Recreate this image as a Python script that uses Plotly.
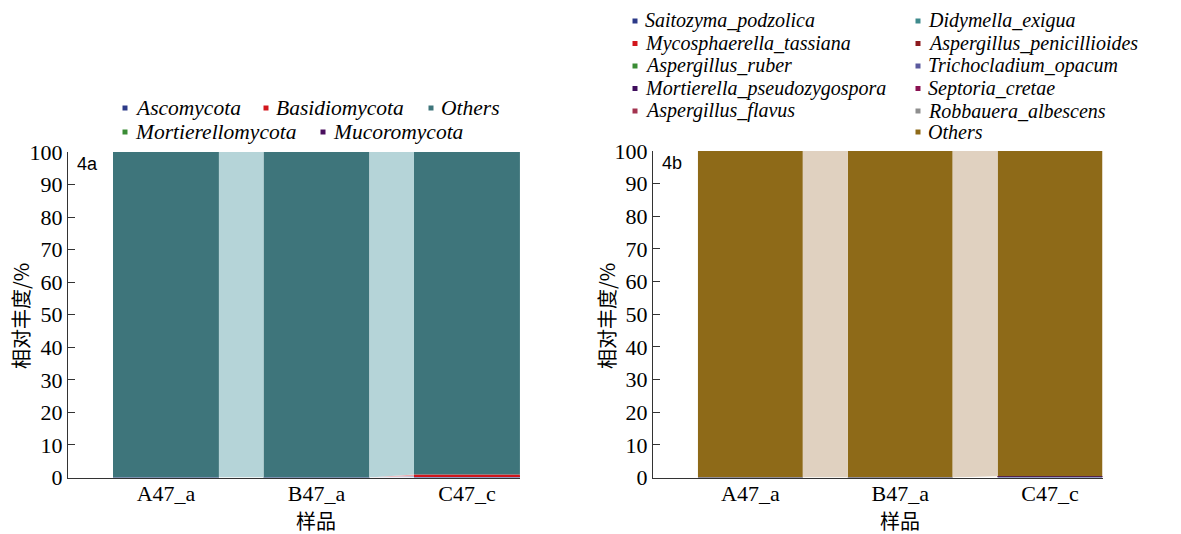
import plotly.graph_objects as go

# ---------------- data ----------------
samples = ["A47_a", "B47_a", "C47_c"]

# panel 4a: phylum level relative abundance (%), stacked bottom -> top
phyla = ["Ascomycota", "Mortierellomycota", "Basidiomycota", "Mucoromycota", "Others"]
ascomycota = [0.02, 0.02, 0.45]
mortierellomycota = [0.00, 0.00, 0.00]
basidiomycota = [0.00, 0.00, 0.50]
mucoromycota = [0.00, 0.00, 0.00]
others_phylum = [99.98, 99.98, 99.05]

# panel 4b: species level relative abundance (%), stacked bottom -> top
species = [
    "Saitozyma_podzolica", "Mycosphaerella_tassiana", "Aspergillus_ruber",
    "Mortierella_pseudozygospora", "Aspergillus_flavus", "Didymella_exigua",
    "Aspergillus_penicillioides", "Trichocladium_opacum", "Septoria_cretae",
    "Robbauera_albescens", "Others",
]
saitozyma_podzolica = [0.01, 0.01, 0.20]
mycosphaerella_tassiana = [0.00, 0.00, 0.01]
aspergillus_ruber = [0.00, 0.00, 0.00]
mortierella_pseudozygospora = [0.00, 0.00, 0.15]
aspergillus_flavus = [0.00, 0.00, 0.00]
didymella_exigua = [0.00, 0.00, 0.00]
aspergillus_penicillioides = [0.00, 0.00, 0.00]
trichocladium_opacum = [0.00, 0.00, 0.00]
septoria_cretae = [0.00, 0.00, 0.00]
robbauera_albescens = [0.00, 0.00, 0.00]
others_species = [99.99, 99.99, 99.64]

y_ticks = list(range(0, 101, 10))

# ---------------- styles ----------------
W, H = 1181, 534
SERIF = "Liberation Serif, Times New Roman, serif"
SANS = "Liberation Sans, Arial, sans-serif"
CJK = "Noto Sans CJK SC, sans-serif"
AXIS_COLOR = "#333333"

phylum_colors = {
    "Ascomycota": "#2c3a88",
    "Basidiomycota": "#d2161c",
    "Others": "#3e757b",
    "Mortierellomycota": "#3a8c35",
    "Mucoromycota": "#4a0f5e",
}
species_colors = {
    "Saitozyma_podzolica": "#2c3a88",
    "Mycosphaerella_tassiana": "#d2161c",
    "Aspergillus_ruber": "#3a8c35",
    "Mortierella_pseudozygospora": "#3f0d5c",
    "Aspergillus_flavus": "#a3334f",
    "Didymella_exigua": "#3e8a8c",
    "Aspergillus_penicillioides": "#8c1a1e",
    "Trichocladium_opacum": "#5b5a9e",
    "Septoria_cretae": "#8a1252",
    "Robbauera_albescens": "#8e8e8e",
    "Others": "#8e6a18",
}
link_override = {("a", "Others"): "#b5d4d8", ("b", "Others"): "#e0d1c0"}


def lighten(hex_color, alpha=0.35):
    h = hex_color.lstrip("#")
    r, g, b = (int(h[i:i + 2], 16) for i in (0, 2, 4))
    mix = lambda c: int(round(255 - alpha * (255 - c)))
    return "rgb({},{},{})".format(mix(r), mix(g), mix(b))


def px_x(x):
    return x / W


def px_y(y):
    return (H - y) / H


panels = {
    "a": dict(
        names=phyla,
        values=[ascomycota, mortierellomycota, basidiomycota, mucoromycota, others_phylum],
        colors=phylum_colors,
        xaxis="x", yaxis="y",
        bar_width=0.704,
        x_range=[-0.651, 2.3525],
    ),
    "b": dict(
        names=species,
        values=[saitozyma_podzolica, mycosphaerella_tassiana, aspergillus_ruber,
                mortierella_pseudozygospora, aspergillus_flavus, didymella_exigua,
                aspergillus_penicillioides, trichocladium_opacum, septoria_cretae,
                robbauera_albescens, others_species],
        colors=species_colors,
        xaxis="x2", yaxis="y2",
        bar_width=0.70,
        x_range=[-0.65, 2.35],
    ),
}

fig = go.Figure()
xpos = list(range(len(samples)))

for key, p in panels.items():
    w = p["bar_width"]
    base = [0.0] * len(samples)
    for name, vals in zip(p["names"], p["values"]):
        color = p["colors"][name]
        top = [b + v for b, v in zip(base, vals)]
        # stacked bar segment
        fig.add_trace(go.Bar(
            x=xpos, y=vals, base=base, width=w,
            marker=dict(color=color, line=dict(width=0)),
            name=name, showlegend=False,
            xaxis=p["xaxis"], yaxis=p["yaxis"],
        ))
        # light band joining the segment of neighbouring bars
        light = link_override.get((key, name), lighten(color))
        for i in range(len(samples) - 1):
            if vals[i] == 0 and vals[i + 1] == 0:
                continue
            x0, x1 = xpos[i] + w / 2, xpos[i + 1] - w / 2
            fig.add_trace(go.Scatter(
                x=[x0, x1, x1, x0, x0],
                y=[base[i], base[i + 1], top[i + 1], top[i], base[i]],
                mode="lines", fill="toself", fillcolor=light,
                line=dict(width=0), hoverinfo="skip", showlegend=False,
                xaxis=p["xaxis"], yaxis=p["yaxis"],
            ))
        base = top

axis_common_y = dict(
    range=[0, 100], tickvals=y_ticks, ticks="inside", ticklen=7, tickwidth=1,
    tickcolor=AXIS_COLOR, showline=True, linecolor=AXIS_COLOR, linewidth=1.3,
    showgrid=False, zeroline=False, automargin=False,
    tickfont=dict(family=SERIF, size=22, color="black"),
)
axis_common_x = dict(
    tickvals=xpos, ticktext=samples, ticks="", showline=True,
    linecolor=AXIS_COLOR, linewidth=1.3, showgrid=False, zeroline=False,
    automargin=False, ticklabelstandoff=-4,
    tickfont=dict(family=SERIF, size=22, color="black"),
)

fig.update_layout(
    width=W, height=H, autosize=False,
    margin=dict(l=0, r=0, t=0, b=0, pad=0),
    paper_bgcolor="white", plot_bgcolor="white",
    barmode="overlay", showlegend=False,
    xaxis=dict(domain=[px_x(68), px_x(520)], range=panels["a"]["x_range"],
               anchor="y", **axis_common_x),
    yaxis=dict(domain=[px_y(477.5), px_y(152)], anchor="x", **axis_common_y),
    xaxis2=dict(domain=[px_x(653), px_x(1102.5)], range=panels["b"]["x_range"],
                anchor="y2", **axis_common_x),
    yaxis2=dict(domain=[px_y(477.5), px_y(151)], anchor="x2", **axis_common_y),
)

annotations = []
shapes = []

# panel labels
for xr, yr, label in (("x domain", "y domain", "4a"), ("x2 domain", "y2 domain", "4b")):
    annotations.append(dict(
        x=0.016, y=1.0, xref=xr, yref=yr, xanchor="left", yanchor="top",
        text=label, showarrow=False, font=dict(family=SANS, size=18, color="black"),
    ))

# axis titles
for xpix in (20, 606):
    annotations.append(dict(
        x=px_x(xpix), y=px_y(316), xref="paper", yref="paper",
        xanchor="center", yanchor="middle",
        text="相对丰度/%", textangle=-90, showarrow=False,
        font=dict(family=CJK, size=20, color="black"),
    ))
for xr in ("x", "x2"):
    annotations.append(dict(
        x=1, y=px_y(520), xref=xr, yref="paper", yanchor="middle",
        text="样品", showarrow=False,
        font=dict(family=CJK, size=20, color="black"),
    ))

# legend entries: (name, colour, marker x px, marker y px, font size)
legend_items = [
    ("Ascomycota", phylum_colors["Ascomycota"], 125, 108, 21.5),
    ("Basidiomycota", phylum_colors["Basidiomycota"], 266, 108, 21.5),
    ("Others", phylum_colors["Others"], 431, 108, 21.5),
    ("Mortierellomycota", phylum_colors["Mortierellomycota"], 125, 132, 21.5),
    ("Mucoromycota", phylum_colors["Mucoromycota"], 323, 132, 21.5),
]
col_rows = [21, 43.5, 66, 88.5, 111, 132]
for i, name in enumerate(species[:5]):
    legend_items.append((name, species_colors[name], 635, col_rows[i], 20))
for i, name in enumerate(species[5:]):
    legend_items.append((name, species_colors[name], 918, col_rows[i], 20))

for name, color, mx, my, fs in legend_items:
    shapes.append(dict(
        type="rect", xref="paper", yref="paper",
        x0=px_x(mx - 2.5), x1=px_x(mx + 2.5), y0=px_y(my + 2.5), y1=px_y(my - 2.5),
        fillcolor=color, line=dict(width=0),
    ))
    annotations.append(dict(
        x=px_x(mx + 8), y=px_y(my), xref="paper", yref="paper",
        xanchor="left", yanchor="middle", text="<i>" + name + "</i>",
        showarrow=False, font=dict(family=SERIF, size=fs, color="black"),
    ))

fig.update_layout(annotations=annotations, shapes=shapes)
fig.write_html("out.html")
